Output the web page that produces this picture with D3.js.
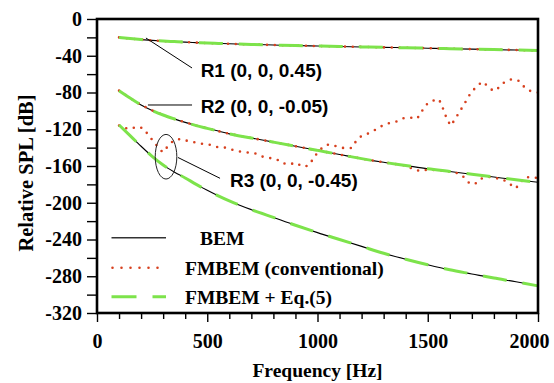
<!DOCTYPE html>
<html>
<head>
<meta charset="utf-8">
<script src="https://cdn.jsdelivr.net/npm/d3@7/dist/d3.min.js"></script>
<style>
    body { margin: 0; background: #fff; }
    svg { display: block; }
</style>
</head>
<body>
<div id="chart"></div>
<script>
// frequency grid [Hz] for BEM and FMBEM + Eq.(5)
const freqBem = [100, 150, 200, 250, 300, 350, 400, 450, 500, 550, 600, 700, 800, 900,
    1000, 1100, 1200, 1300, 1400, 1500, 1600, 1700, 1800, 1900, 2000];

// BEM, relative SPL [dB]
const bemR1 = [-20, -21.3, -22.4, -23.3, -24, -24.6, -25.2, -25.7, -26.2, -26.6, -27, -27.7, -28.3, -28.9,
    -29.4, -29.9, -30.4, -30.9, -31.3, -31.8, -32.3, -32.8, -33.3, -33.8, -34.3];
const bemR2 = [-78, -86, -93.5, -99.5, -104.5, -108.7, -112.5, -116, -119, -122, -125, -129.5, -134, -138.5,
    -143, -147.5, -152, -156, -159.5, -163, -166, -169, -172, -175, -177.7];
const bemR3 = [-115.4, -127, -138.5, -149.5, -159, -166.5, -173, -180, -186.5, -192.5, -198, -207.5, -216, -224.5,
    -232.5, -240, -247.5, -255, -261.5, -267.5, -273, -277.5, -282, -286, -290.5];

// FMBEM + Eq.(5) lies on top of BEM
const eq5R1 = [-20, -21.3, -22.4, -23.3, -24, -24.6, -25.2, -25.7, -26.2, -26.6, -27, -27.7, -28.3, -28.9,
    -29.4, -29.9, -30.4, -30.9, -31.3, -31.8, -32.3, -32.8, -33.3, -33.8, -34.3];
const eq5R2 = [-78, -86, -93.5, -99.5, -104.5, -108.7, -112.5, -116, -119, -122, -125, -129.5, -134, -138.5,
    -143, -147.5, -152, -156, -159.5, -163, -166, -169, -172, -175, -177.7];
const eq5R3 = [-115.4, -127, -138.5, -149.5, -159, -166.5, -173, -180, -186.5, -192.5, -198, -207.5, -216, -224.5,
    -232.5, -240, -247.5, -255, -261.5, -267.5, -273, -277.5, -282, -286, -290.5];

// FMBEM (conventional)
const convR1 = [-20, -21.3, -22.4, -23.3, -24, -24.6, -25.2, -25.7, -26.2, -26.6, -27, -27.7, -28.3, -28.9,
    -29.4, -29.9, -30.4, -30.9, -31.3, -31.8, -32.3, -32.8, -33.3, -33.8, -34.3];

const freqConvR2 = [100, 150, 200, 250, 300, 350, 400, 450, 500, 550, 600, 700, 800, 900, 1000, 1100, 1200, 1300, 1400,
    1434, 1462, 1498, 1550, 1600, 1639, 1665, 1689, 1714, 1740, 1780, 1840, 1868, 1899, 1918, 1941, 1967, 2000];
const convR2 = [-78, -86, -93.5, -99.5, -104.5, -108.7, -112.5, -116, -119, -122, -125, -129.5, -134, -138.5,
    -143, -147.5, -152, -156, -159.5,
    -163.3, -165.4, -164, -164.5, -166, -168, -172.3, -178.8, -179.6, -173.8, -172, -174.5, -178.9, -184.3, -178.9, -172.3, -172.3, -173];

const freqConvR3 = [100, 112, 150, 183, 210, 233, 251, 275, 298, 320, 346, 376, 414, 452, 482, 517, 550, 584, 618, 653,
    720, 751, 785, 815, 842, 872, 902, 932, 958, 974, 998, 1026, 1050, 1087, 1117, 1155, 1178, 1200, 1231, 1261,
    1291, 1321, 1356, 1389, 1422, 1452, 1472, 1492, 1518, 1551, 1566, 1578, 1590, 1605, 1624, 1643, 1661, 1679,
    1696, 1722, 1747, 1772, 1797, 1823, 1847, 1880, 1911, 1933, 1961, 1994, 2000];
const convR3 = [-116, -117.9, -119.7, -117.2, -119, -126.3, -131.7, -139, -145, -139, -132.4, -130.6, -132.8, -134.6, -136, -137, -139.7, -140, -142.6, -144.4,
    -146.5, -149.8, -151.4, -152.7, -157, -158.2, -156.4, -160.7, -159.8, -154.5, -146, -139, -136.5, -138.6, -140.4, -140.4, -131.7, -127.3, -124.5, -120.8,
    -116.5, -113.6, -111.7, -108, -107.4, -108.5, -100.9, -93.6, -89.2, -87.4, -95.4, -103.4, -110.6, -116.1, -108.8, -101.6, -94.3, -87.1,
    -79.8, -73.6, -68.2, -72.9, -78.4, -74.7, -68.9, -65.6, -67.1, -72.9, -78, -79.8, -80];

// axes
const xTicks = d3.range(0, 2001, 100);
const xLabels = [0, 500, 1000, 1500, 2000];
const yTicks = d3.range(-320, 1, 20);
const yLabels = [0, -40, -80, -120, -160, -200, -240, -280, -320];

const legendLabels = ["BEM", "FMBEM (conventional)", "FMBEM + Eq.(5)"];
const pointLabels = ["R1 (0, 0, 0.45)", "R2 (0, 0, -0.05)", "R3 (0, 0, -0.45)"];

const GREEN = "#7de34b";
const RED = "#d7401e";
const SERIF = "'Liberation Serif', 'Times New Roman', 'DejaVu Serif', serif";
const SANS = "'Liberation Sans', Arial, sans-serif";

let svg, x, y;
const width = 554, height = 383;

function serifText(sel, size) {
    return sel.attr("font-family", SERIF)
        .style("font-family", SERIF)
        .style("font-weight", "bold")
        .style("font-size", size + "px")
        .attr("fill", "#000");
}

function drawChart() {
    svg = d3.select("#chart").append("svg")
        .attr("width", width)
        .attr("height", height);

    x = d3.scaleLinear().domain([0, 2000]).range([97, 538]);
    y = d3.scaleLinear().domain([-320, 0]).range([313, 19]);

    const line = d3.line()
        .x(d => x(d[0]))
        .y(d => y(d[1]))
        .curve(d3.curveMonotoneX);
    const rough = d3.line()
        .x(d => x(d[0]))
        .y(d => y(d[1]));

    const zip = (fs, vs) => fs.map((f, i) => [f, vs[i]]);

    // BEM (black)
    [bemR1, bemR2, bemR3].forEach(vals => {
        svg.append("path")
            .attr("d", line(zip(freqBem, vals)))
            .attr("fill", "none")
            .attr("stroke", "#000")
            .attr("stroke-width", 1.1);
    });

    // FMBEM conventional (red dots)
    [[freqBem, convR1], [freqConvR2, convR2], [freqConvR3, convR3]].forEach(([fs, vals]) => {
        svg.append("path")
            .attr("d", rough(zip(fs, vals)))
            .attr("fill", "none")
            .attr("stroke", RED)
            .attr("stroke-width", 2.6)
            .attr("stroke-linecap", "round")
            .attr("stroke-dasharray", "0 7.8");
    });

    // FMBEM + Eq.(5) (green dashes)
    [eq5R1, eq5R2, eq5R3].forEach(vals => {
        svg.append("path")
            .attr("d", line(zip(freqBem, vals)))
            .attr("fill", "none")
            .attr("stroke", GREEN)
            .attr("stroke-width", 3)
            .attr("stroke-dasharray", "24 16");
    });

    // axes
    const xAxis = d3.axisBottom(x)
        .tickValues(xTicks)
        .tickSize(9)
        .tickSizeOuter(0)
        .tickPadding(12)
        .tickFormat(d => xLabels.includes(d) ? d : "");
    const gx = svg.append("g").attr("transform", `translate(0,${y(-320)})`).call(xAxis);
    gx.selectAll(".tick line")
        .attr("y2", d => xLabels.includes(d) ? 9 : 6);
    gx.selectAll(".tick text")
        .attr("x", d => d === 2000 ? -9 : 0);

    const yAxis = d3.axisLeft(y)
        .tickValues(yTicks)
        .tickSize(10)
        .tickSizeOuter(0)
        .tickPadding(5)
        .tickFormat(d => yLabels.includes(d) ? d : "");
    const gy = svg.append("g").attr("transform", `translate(${x(0)},0)`).call(yAxis);

    [gx, gy].forEach(g => {
        g.select(".domain").remove();
        g.attr("font-family", SERIF);
        g.selectAll(".tick line").attr("stroke", "#000").attr("stroke-width", 1.4);
        serifText(g.selectAll(".tick text"), 20);
    });

    // frame
    svg.append("rect")
        .attr("x", x(0))
        .attr("y", y(0))
        .attr("width", x(2000) - x(0))
        .attr("height", y(-320) - y(0))
        .attr("fill", "none")
        .attr("stroke", "#000")
        .attr("stroke-width", 2.6);

    // axis titles
    serifText(svg.append("text"), 19.5)
        .attr("x", x(1000))
        .attr("y", 377)
        .attr("text-anchor", "middle")
        .text("Frequency [Hz]");

    serifText(svg.append("text"), 20.5)
        .attr("transform", "translate(33,173) rotate(-90)")
        .attr("text-anchor", "middle")
        .text("Relative SPL [dB]");

    drawAnnotations();
    drawLegend();
}

function drawAnnotations() {
    const leaders = [
        [[222, -20.7], [431, -53.3]],
        [[231, -93.6], [431, -93.6]],
        [[367, -150.7], [558, -173.4]]
    ];
    leaders.forEach(([a, b]) => {
        svg.append("line")
            .attr("x1", x(a[0])).attr("y1", y(a[1]))
            .attr("x2", x(b[0])).attr("y2", y(b[1]))
            .attr("stroke", "#000")
            .attr("stroke-width", 1);
    });

    svg.append("ellipse")
        .attr("cx", x(313))
        .attr("cy", y(-149.9))
        .attr("rx", 10.8)
        .attr("ry", 22.3)
        .attr("fill", "none")
        .attr("stroke", "#222")
        .attr("stroke-width", 1);

    const labelPos = [[470, -62.8], [470, -102.6], [603, -182.5]];
    pointLabels.forEach((t, i) => {
        svg.append("text")
            .attr("x", x(labelPos[i][0]))
            .attr("y", y(labelPos[i][1]))
            .style("font-family", SANS)
            .style("font-weight", "bold")
            .style("font-size", "19px")
            .text(t);
    });
}

function drawLegend() {
    const lx1 = 111.5, lx2 = 166;
    const rows = [237.7, 267.7, 296.7];
    const textX = [200, 185, 185];

    svg.append("line")
        .attr("x1", lx1).attr("x2", lx2)
        .attr("y1", rows[0]).attr("y2", rows[0])
        .attr("stroke", "#333").attr("stroke-width", 1.5);

    svg.append("line")
        .attr("x1", lx1 + 1).attr("x2", lx2)
        .attr("y1", rows[1]).attr("y2", rows[1])
        .attr("stroke", RED).attr("stroke-width", 2.6)
        .attr("stroke-linecap", "round")
        .attr("stroke-dasharray", "0 9");

    svg.append("line")
        .attr("x1", lx1).attr("x2", lx2)
        .attr("y1", rows[2]).attr("y2", rows[2])
        .attr("stroke", GREEN).attr("stroke-width", 3)
        .attr("stroke-dasharray", "25 16");

    legendLabels.forEach((t, i) => {
        serifText(svg.append("text"), 19.5)
            .attr("x", textX[i])
            .attr("y", rows[i] + 7.5)
            .text(t);
    });
}

drawChart();
</script>
</body>
</html>
